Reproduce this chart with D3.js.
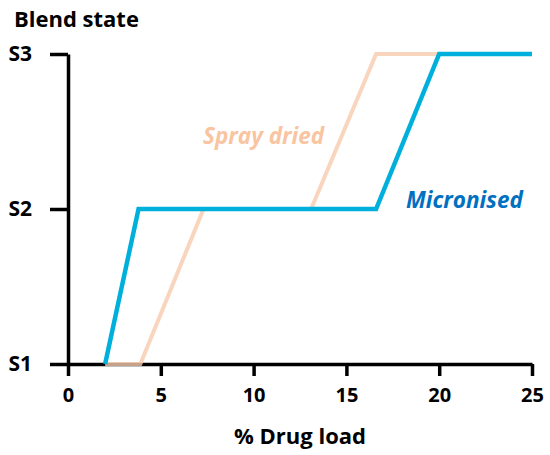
<!DOCTYPE html>
<html>
<head>
<meta charset="utf-8">
<script src="https://cdn.jsdelivr.net/npm/d3@7"></script>
<style>
  body { margin: 0; background: #fff; }
  text { font-family: "Open Sans", Lato, sans-serif; font-weight: bold; }
</style>
</head>
<body>
<script>
// data
const xTicks = [0, 5, 10, 15, 20, 25];
const stateLabels = ["S1", "S2", "S3"];
const stateValues = [1, 2, 3];

const microLoad = [2, 3.8, 16.6, 20, 25];
const microState = [1, 2, 2, 3, 3];

const sprayLoad = [2, 3.9, 7.3, 13.1, 16.6, 20];
const sprayState = [1, 1, 2, 2, 3, 3];

const width = 550;
const height = 455;

const svg = d3.select("body").append("svg").attr("width", width).attr("height", height);

const xScale = d3.scaleLinear().domain([0, 25]).range([68, 532]);
const yScale = d3.scaleLinear().domain([1, 3]).range([364, 54]);

// axes
const yAxis = svg.append("g")
    .attr("transform", "translate(" + xScale(0) + ",0)")
    .call(d3.axisLeft(yScale).tickValues(stateValues)
        .tickFormat((d, i) => stateLabels[i]).tickSize(18).tickSizeOuter(0).tickPadding(18));

const xAxis = svg.append("g")
    .attr("transform", "translate(0," + yScale(1) + ")")
    .call(d3.axisBottom(xScale).tickValues(xTicks).tickSize(12).tickSizeOuter(0).tickPadding(12));

[yAxis, xAxis].forEach(g => {
    g.select(".domain").attr("stroke", "#000").attr("stroke-width", 3.5);
    g.selectAll(".tick line").attr("stroke", "#000").attr("stroke-width", 3.5);
    g.selectAll(".tick text").attr("fill", "#000").style("font-size", "20px");
});
yAxis.selectAll(".tick text").style("font-size", "21px");

const line = d3.line().x(d => xScale(d[0])).y(d => yScale(d[1]));

const sprayPts = sprayLoad.map((v, i) => [v, sprayState[i]]);
const microPts = microLoad.map((v, i) => [v, microState[i]]);

svg.append("path")
    .datum(sprayPts)
    .attr("d", line)
    .attr("fill", "none")
    .attr("stroke", "#f8cbad")
    .attr("stroke-opacity", 0.8)
    .attr("stroke-width", 4);

svg.append("path")
    .datum(microPts)
    .attr("d", line)
    .attr("fill", "none")
    .attr("stroke", "#00b0dc")
    .attr("stroke-width", 4.5);

// titles
svg.append("text").attr("x", 14).attr("y", 27)
    .style("font-size", "22px").attr("fill", "#000").text("Blend state");

svg.append("text").attr("x", 300).attr("y", 444).attr("text-anchor", "middle")
    .style("font-size", "22px").attr("fill", "#000").text("% Drug load");

// series labels
svg.append("text").attr("x", 203).attr("y", 144)
    .style("font-size", "22.5px").style("font-style", "italic")
    .attr("fill", "#f9c4a0").text("Spray dried");

svg.append("text").attr("x", 406).attr("y", 208)
    .style("font-size", "22.5px").style("font-style", "italic")
    .attr("fill", "#0070c0").text("Micronised");
</script>
</body>
</html>
